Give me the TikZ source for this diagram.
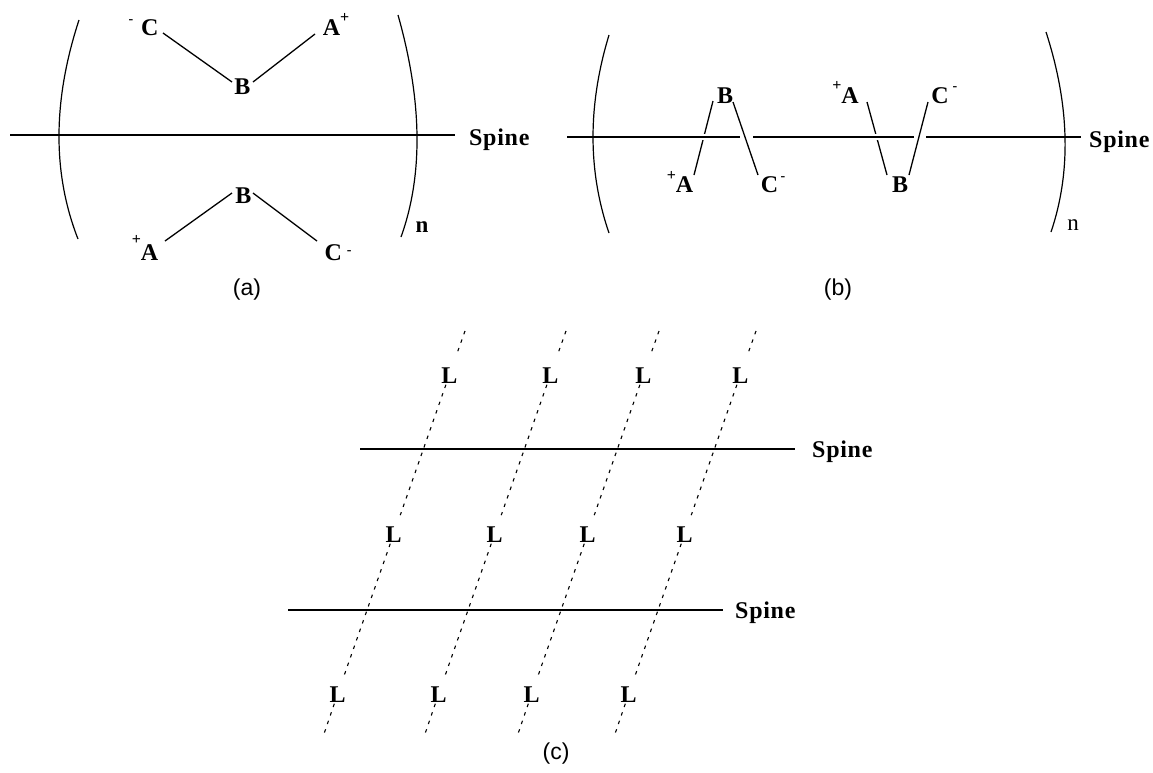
\documentclass[tikz,border=0pt]{standalone}
\usepackage{fontspec}
\setmainfont{Liberation Serif}
\newfontfamily\capfont{Liberation Sans}
\newcommand\chg[2]{\raisebox{#1pt}{\fontsize{14}{14}\selectfont\bfseries #2}}
\newcommand\plusc[1]{\raisebox{#1pt}{\fontsize{16}{16}\selectfont\bfseries +}}
\begin{document}
\begin{tikzpicture}[x=1pt,y=-1pt,
  lbl/.style={font={\fontsize{24}{28}\selectfont\bfseries}, inner sep=0pt, anchor=base},
  Lnode/.style={font={\fontsize{24}{28}\selectfont\bfseries}, inner sep=1.5pt, anchor=base},
  nlbl/.style={font={\fontsize{23}{27}\selectfont}, inner sep=0pt, anchor=base},
  spinelbl/.style={font={\fontsize{24}{28}\selectfont\bfseries\addfontfeature{LetterSpace=3}}, inner sep=0pt, anchor=base west},
  capt/.style={font={\capfont\fontsize{23}{27}\selectfont}, inner sep=0pt},
  bond/.style={line width=1.3pt},
  spine/.style={line width=1.8pt},
  paren/.style={line width=1.2pt},
  dotl/.style={line width=1.1pt, dash pattern=on 3.5pt off 5.5pt}]
\useasboundingbox (0,0) rectangle (1153,772);

% ---------------- panel (a) ----------------
\draw[spine] (10,135) -- (455,135);
\draw[paren] (79,20) .. controls (52.7,100.3) and (52.3,173.3) .. (78,239);
\draw[paren] (398,15) .. controls (422.3,101) and (423.3,175) .. (401,237);
\node[lbl] (aCt) at (143.5,35) {\chg{11.5}{-}\hspace{8pt}C};
\node[lbl] (aAt) at (336,35) {A\plusc{12.5}};
\node[lbl] (aBt) at (242.5,94) {B};
\node[lbl] (aBb) at (243.5,203) {B};
\node[lbl] (aAb) at (145,260) {\plusc{15.5}A};
\node[lbl] (aCb) at (338,260) {C\hspace{5pt}\chg{6}{-}};
\node[nlbl, font={\fontsize{23}{27}\selectfont\bfseries}] (an) at (422,232) {n};
\node[spinelbl] (asp) at (469,145) {Spine};
\node[capt] (acap) at (247,290) {(a)};
\draw[bond] ([xshift=19.5pt,yshift=2pt]aCt.base) -- ([xshift=-10.5pt,yshift=12pt]aBt.base);
\draw[bond] ([xshift=10.5pt,yshift=12pt]aBt.base) -- ([xshift=-21pt,yshift=1pt]aAt.base);
\draw[bond] ([xshift=20pt,yshift=19pt]aAb.base) -- ([xshift=-11.5pt,yshift=10pt]aBb.base);
\draw[bond] ([xshift=9.5pt,yshift=10pt]aBb.base) -- ([xshift=-21pt,yshift=19pt]aCb.base);

% ---------------- panel (b) ----------------
\node[lbl] (bA1) at (680,192) {\plusc{11.5}A};
\node[lbl] (bB1) at (725,103) {B};
\node[lbl] (bC1) at (773.1,192) {C\hspace{2.5pt}\chg{11.5}{-}};
\node[lbl] (bA2) at (845.5,103) {\plusc{12.5}A};
\node[lbl] (bB2) at (900,192) {B};
\node[lbl] (bC2) at (944.4,103) {C\hspace{4pt}\chg{12.5}{-}};
\node[nlbl] (bn) at (1073,230) {n};
\node[spinelbl] (bsp) at (1089,147) {Spine};
\node[capt] (bcap) at (838,290) {(b)};
\draw[bond] ([xshift=14pt,yshift=17pt]bA1.base) -- ([xshift=-12pt,yshift=2pt]bB1.base);
\draw[bond] ([xshift=21.5pt,yshift=1pt]bA2.base) -- ([xshift=-13pt,yshift=17pt]bB2.base);
\draw[spine, preaction={draw=white,line width=6pt}] (567,137) -- (740,137) (753,137) -- (914,137) (926,137) -- (1081,137);
\draw[bond] ([xshift=8pt,yshift=1pt]bB1.base) -- ([xshift=-15.1pt,yshift=17pt]bC1.base);
\draw[bond] ([xshift=9pt,yshift=17pt]bB2.base) -- ([xshift=-16.4pt,yshift=1pt]bC2.base);
\draw[paren] (609,35) .. controls (587.7,105) and (587.7,171) .. (609,233);
\draw[paren] (1046,32) .. controls (1069.7,105.3) and (1071.3,172) .. (1051,232);

% ---------------- panel (c) ----------------
\draw[spine] (360,449) -- (795,449);
\draw[spine] (288,610) -- (723,610);
\node[spinelbl] (csp1) at (812,457) {Spine};
\node[spinelbl] (csp2) at (735,618) {Spine};
\foreach \x [count=\i] in {465,566,659,756} {
  \coordinate (ct\i) at (\x,331);
  \coordinate (cb\i) at (\x-140.7,733);
  \node[Lnode] (La\i) at (\x-15.75,383) {L};
  \node[Lnode] (Lb\i) at (\x-71.4,542) {L};
  \node[Lnode] (Lc\i) at (\x-127.4,702) {L};
  \draw[dotl, shorten >=11pt] (ct\i) -- (La\i);
  \draw[dotl, shorten >=10pt] (La\i) -- (Lb\i);
  \draw[dotl, shorten >=10pt] (Lb\i) -- (Lc\i);
  \draw[dotl] (Lc\i) -- (cb\i);
}
\node[capt] (ccap) at (556,754) {(c)};
\end{tikzpicture}
\end{document}
